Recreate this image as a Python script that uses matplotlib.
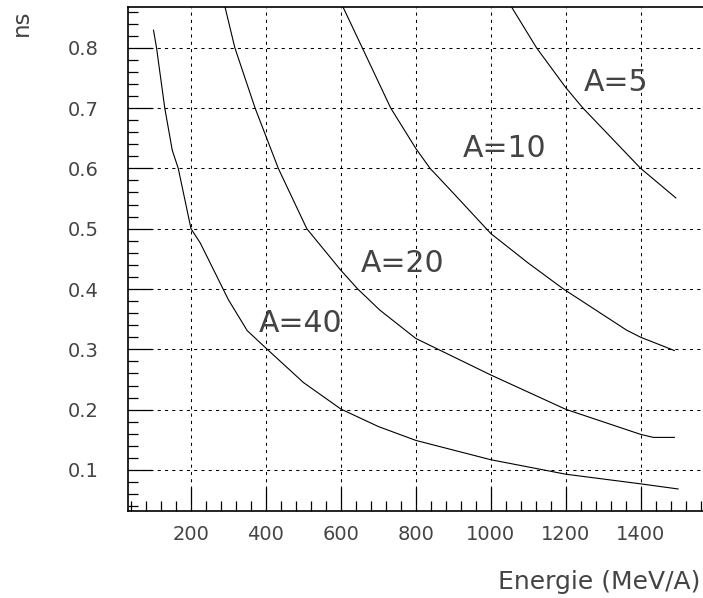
import matplotlib
matplotlib.use("Agg")
import matplotlib.pyplot as plt
from matplotlib.ticker import MultipleLocator, FixedLocator

# time spread (ns) versus kinetic energy per nucleon, one curve per mass number
energy_a40 = [100, 108, 130, 150, 166, 200, 225, 300, 350, 400, 500, 600, 700, 800,
              1000, 1200, 1400, 1500]
time_a40 = [0.829, 0.80, 0.70, 0.630, 0.60, 0.500, 0.476, 0.382, 0.331, 0.302, 0.245,
            0.201, 0.172, 0.149, 0.117, 0.093, 0.077, 0.0685]

energy_a20 = [291, 317, 371, 433, 509, 600, 645, 704, 800, 1000, 1200, 1400, 1434, 1490]
time_a20 = [0.867, 0.80, 0.70, 0.60, 0.50, 0.431, 0.40, 0.365, 0.318, 0.2575, 0.2006,
            0.159, 0.154, 0.154]

energy_a10 = [606, 657, 733, 800, 838, 900, 1000, 1100, 1194, 1362, 1400, 1490]
time_a10 = [0.867, 0.80, 0.70, 0.633, 0.60, 0.559, 0.492, 0.443, 0.40, 0.332, 0.320, 0.298]

energy_a5 = [1056, 1122, 1200, 1246, 1400, 1494]
time_a5 = [0.867, 0.80, 0.734, 0.70, 0.60, 0.551]

curve_labels = ["A=40", "A=20", "A=10", "A=5"]
label_x = [382, 654, 926, 1249]
label_y = [0.329, 0.429, 0.619, 0.729]

x_ticks = [200, 400, 600, 800, 1000, 1200, 1400, 1600]
y_ticks = [0.1, 0.2, 0.3, 0.4, 0.5, 0.6, 0.7, 0.8]

plt.rcParams["font.family"] = ["DejaVu Sans"]
text_color = "#444444"

fig = plt.figure(figsize=(7.03, 5.98), dpi=100)
ax = fig.add_axes([0.1816, 0.145, 0.8363, 0.8428])

for e, t in [(energy_a40, time_a40), (energy_a20, time_a20),
             (energy_a10, time_a10), (energy_a5, time_a5)]:
    ax.plot(e, t, color="black", lw=0.8)

for txt, x, y in zip(curve_labels, label_x, label_y):
    ax.text(x, y, txt, fontsize=21.5, color=text_color, ha="left", va="baseline")

ax.set_xlim(31, 1600)
ax.set_ylim(0.0315, 0.867)

ax.xaxis.set_major_locator(FixedLocator(x_ticks))
ax.xaxis.set_minor_locator(MultipleLocator(40))
ax.yaxis.set_major_locator(FixedLocator(y_ticks))
ax.yaxis.set_minor_locator(MultipleLocator(0.02))
# the 1600 tick sits past the right edge of the figure, so leave it unlabeled
ax.set_xticklabels([str(v) if v < 1600 else "" for v in x_ticks])
ax.set_yticklabels([f"{v:.1f}" for v in y_ticks])

ax.tick_params(axis="both", which="major", direction="in", length=17, width=0.9,
               labelsize=14, labelcolor=text_color)
ax.tick_params(axis="both", which="minor", direction="in", length=7.5, width=0.9)
ax.tick_params(axis="x", which="major", pad=10)
ax.tick_params(axis="y", which="major", pad=21)
ax.tick_params(top=False, right=False, which="both")

ax.grid(True, which="major", color="black", lw=0.75, linestyle=(0, (3, 4)))

for side in ["left", "bottom", "top"]:
    ax.spines[side].set_linewidth(1.2)
ax.spines["right"].set_visible(False)

fig.text(21 / 703, 1 - 10 / 598, "ns", rotation=90, ha="center", va="top",
         fontsize=16.5, color=text_color)
fig.text(700 / 703, 1 - 589 / 598, "Energie (MeV/A)", ha="right", va="baseline",
         fontsize=18, color=text_color)

fig.savefig("out.png", dpi=100)
